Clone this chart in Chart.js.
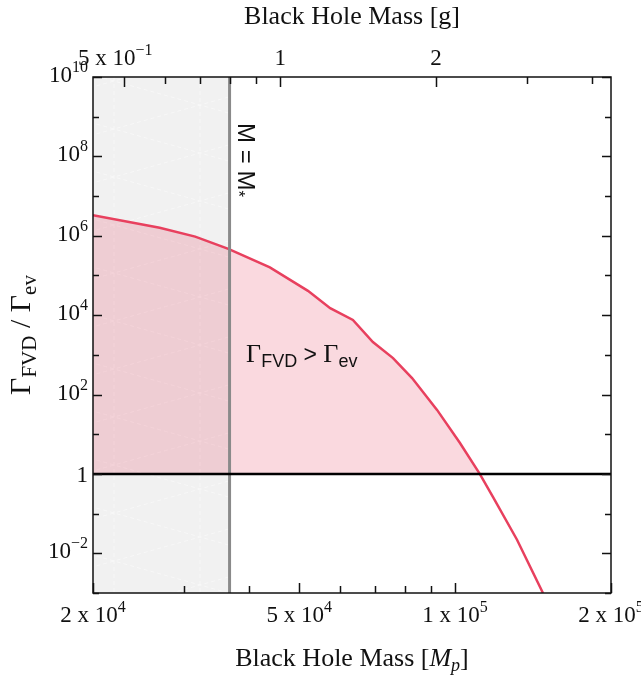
<!DOCTYPE html>
<html>
<head>
<meta charset="utf-8">
<script src="https://cdn.jsdelivr.net/npm/chart.js@4.4.1/dist/chart.umd.min.js"></script>
<style>
  html, body { margin: 0; padding: 0; background: #fff; }
  #wrap { width: 641px; height: 675px; }
</style>
</head>
<body>
<div id="wrap"><canvas id="fvdChart"></canvas></div>
<script>
// black hole mass [M_p] and Gamma_FVD / Gamma_ev
const massMp = [2.0e4, 2.69e4, 3.15e4, 3.65e4, 4.39e4, 5.2e4, 5.74e4, 6.35e4, 6.94e4, 7.59e4, 8.26e4, 9.23e4, 1.022e5, 1.116e5, 1.184e5, 1.317e5, 1.478e5];
const rateRatio = [3.3e6, 1.6e6, 9.5e5, 4.7e5, 1.6e5, 4.1e4, 1.5e4, 7.6e3, 2.1e3, 8.3e2, 2.6e2, 41, 6.0, 1.0, 0.26, 2.2e-2, 1.0e-3];

const mStarMp = 3.67e4;        // M = M*
const planckMassG = 2.176e-5;  // 1 M_p in grams
const xRange = [2e4, 2e5];
const yRange = [1e-3, 1e10];

// tick values and labels [value, base, exponent]
const bottomTicks = [2e4, 3e4, 4e4, 5e4, 6e4, 7e4, 8e4, 9e4, 1e5, 2e5];
const bottomLabels = [[2e4, '2 x 10', '4'], [5e4, '5 x 10', '4'], [1e5, '1 x 10', '5'], [2e5, '2 x 10', '5']];
const topTicksG = [0.5, 0.6, 0.7, 0.8, 0.9, 1, 2, 3, 4];
const topLabelsG = [[0.5, '5 x 10', '\u22121'], [1, '1', ''], [2, '2', '']];
const yTicks = [1e-3, 1e-2, 1e-1, 1, 1e1, 1e2, 1e3, 1e4, 1e5, 1e6, 1e7, 1e8, 1e9, 1e10];
const yLabels = [[1e-2, '10', '\u22122'], [1, '1', ''], [1e2, '10', '2'], [1e4, '10', '4'], [1e6, '10', '6'], [1e8, '10', '8'], [1e10, '10', '10']];

const SERIF = '"Liberation Serif", "DejaVu Serif", serif';
const SANS = '"Liberation Sans", Arial, sans-serif';

function drawParts(ctx, parts, x, y, align) {
	// parts: [text, font, dy]
	let w = 0;
	parts.forEach(p => { ctx.font = p[1]; w += ctx.measureText(p[0]).width; });
	let cx = align === 'right' ? x - w : (align === 'center' ? x - w / 2 : x);
	ctx.textAlign = 'left';
	ctx.textBaseline = 'alphabetic';
	parts.forEach(p => {
		ctx.font = p[1];
		ctx.fillText(p[0], cx, y + (p[2] || 0));
		cx += ctx.measureText(p[0]).width;
	});
}

function powParts(base, exp) {
	const parts = [[base, '23px ' + SERIF, 0]];
	if (exp) parts.push([exp, '16px ' + SERIF, -10]);
	return parts;
}

// grey band below M*, with its faint hatch
const bandPlugin = {
	id: 'band',
	beforeDatasetsDraw(chart) {
		const { ctx, chartArea: a, scales: { x } } = chart;
		const x0 = x.getPixelForValue(xRange[0]);
		const x1 = x.getPixelForValue(mStarMp);
		ctx.save();
		ctx.fillStyle = '#f1f1f1';
		ctx.fillRect(x0, a.top, x1 - x0, a.bottom - a.top);
		ctx.beginPath();
		ctx.rect(x0, a.top, x1 - x0, a.bottom - a.top);
		ctx.clip();
		ctx.strokeStyle = 'rgba(255,255,255,0.45)';
		ctx.lineWidth = 1;
		ctx.setLineDash([4, 3]);
		const px = x0 + 21, qx = x0 + 107, slope = 24 / 86;
		ctx.beginPath();
		ctx.moveTo(px, a.top); ctx.lineTo(px, a.bottom);
		ctx.moveTo(qx, a.top); ctx.lineTo(qx, a.bottom);
		for (let yy = a.top - 400 + ((337 - a.top) % 48); yy < a.bottom + 400; yy += 48) {
			ctx.moveTo(x0 - 10, yy - slope * (x0 - 10 - px));
			ctx.lineTo(x1 + 10, yy - slope * (x1 + 10 - px));
			ctx.moveTo(x0 - 10, yy + slope * (x0 - 10 - px));
			ctx.lineTo(x1 + 10, yy + slope * (x1 + 10 - px));
		}
		ctx.stroke();
		ctx.restore();
	}
};

// frame, inward ticks, tick labels, titles and notes
const axesPlugin = {
	id: 'axesDraw',
	afterDraw(chart) {
		const { ctx, chartArea: a, scales: { x, x2, y } } = chart;
		ctx.save();
		ctx.strokeStyle = '#111';
		ctx.fillStyle = '#111';
		ctx.lineWidth = 1.5;
		ctx.strokeRect(a.left, a.top, a.right - a.left, a.bottom - a.top);

		ctx.beginPath();
		yTicks.forEach(v => {
			const py = Math.round(y.getPixelForValue(v)) + 0.5;
			const len = yLabels.some(l => l[0] === v) ? 9 : 6;
			ctx.moveTo(a.left, py); ctx.lineTo(a.left + len, py);
			ctx.moveTo(a.right, py); ctx.lineTo(a.right - len, py);
		});
		bottomTicks.forEach(v => {
			const px = Math.round(x.getPixelForValue(v)) + 0.5;
			const len = bottomLabels.some(l => l[0] === v) ? 10 : 7;
			ctx.moveTo(px, a.bottom); ctx.lineTo(px, a.bottom - len);
		});
		topTicksG.forEach(v => {
			const px = Math.round(x2.getPixelForValue(v)) + 0.5;
			const len = topLabelsG.some(l => l[0] === v) ? 10 : 7;
			ctx.moveTo(px, a.top); ctx.lineTo(px, a.top + len);
		});
		ctx.stroke();

		yLabels.forEach(l => {
			const py = y.getPixelForValue(l[0]);
			drawParts(ctx, powParts(l[1], l[2]), a.left - 5, py + (l[2] ? 5 : 8), 'right');
		});
		bottomLabels.forEach(l => {
			drawParts(ctx, powParts(l[1], l[2]), x.getPixelForValue(l[0]), a.bottom + 29, 'center');
		});
		topLabelsG.forEach(l => {
			const px = x2.getPixelForValue(l[0]) - (l[2] ? 9 : 0);
			drawParts(ctx, powParts(l[1], l[2]), px, a.top - 12, 'center');
		});

		const cx = (a.left + a.right) / 2;
		drawParts(ctx, [['Black Hole Mass [g]', '26px ' + SERIF, 0]], cx, 24, 'center');
		drawParts(ctx, [['Black Hole Mass [', '26px ' + SERIF, 0], ['M', 'italic 26px ' + SERIF, 0],
			['p', 'italic 18px ' + SERIF, 5], [']', '26px ' + SERIF, 0]], cx, 666, 'center');

		ctx.save();
		ctx.translate(30, (a.top + a.bottom) / 2);
		ctx.rotate(-Math.PI / 2);
		drawParts(ctx, [['\u0393', '30px ' + SERIF, 0], ['FVD', '21px ' + SERIF, 6], [' / ', '30px ' + SERIF, 0],
			['\u0393', '30px ' + SERIF, 0], ['ev', '21px ' + SERIF, 6]], 0, 0, 'center');
		ctx.restore();

		// Gamma_FVD > Gamma_ev note
		drawParts(ctx, [['\u0393', '26px ' + SERIF, 0], ['FVD', '18px ' + SANS, 5], [' > ', '23px ' + SANS, 0],
			['\u0393', '26px ' + SERIF, 0], ['ev', '18px ' + SANS, 5]],
			x.getPixelForValue(3.95e4), y.getPixelForValue(6.6e2), 'left');

		// M = M* along the line
		ctx.save();
		ctx.translate(x.getPixelForValue(mStarMp) + 8, y.getPixelForValue(6.9e8));
		ctx.rotate(Math.PI / 2);
		drawParts(ctx, [['M = M', '24px ' + SANS, 0], ['*', '17px ' + SANS, 5]], 0, 0, 'left');
		ctx.restore();
		ctx.restore();
	}
};

const ctx = document.getElementById('fvdChart').getContext('2d');

new Chart(ctx, {
	type: 'line',
	data: {
		datasets: [
			{
				label: 'ratio',
				data: massMp.map((m, i) => ({ x: m, y: rateRatio[i] })),
				borderColor: '#e8405e',
				borderWidth: 2.5,
				pointRadius: 0,
				tension: 0,
				fill: { target: { value: 1 }, above: 'rgba(232,64,94,0.2)', below: 'rgba(0,0,0,0)' },
				order: 3
			},
			{
				label: 'M*',
				data: [{ x: mStarMp, y: yRange[0] }, { x: mStarMp, y: yRange[1] }],
				borderColor: '#8a8a8a',
				borderWidth: 3,
				pointRadius: 0,
				fill: false,
				order: 2
			},
			{
				label: 'unity',
				data: [{ x: xRange[0], y: 1 }, { x: xRange[1], y: 1 }],
				borderColor: '#000',
				borderWidth: 2.5,
				pointRadius: 0,
				fill: false,
				order: 1
			}
		]
	},
	options: {
		responsive: true,
		maintainAspectRatio: false,
		animation: false,
		layout: { padding: { left: 93, right: 30, top: 77, bottom: 82 } },
		plugins: { legend: { display: false }, tooltip: { enabled: false } },
		scales: {
			x: { type: 'logarithmic', min: xRange[0], max: xRange[1], display: false },
			x2: { type: 'logarithmic', axis: 'x', min: xRange[0] * planckMassG, max: xRange[1] * planckMassG, display: false },
			y: { type: 'logarithmic', min: yRange[0], max: yRange[1], display: false }
		}
	},
	plugins: [bandPlugin, axesPlugin]
});
</script>
</body>
</html>
